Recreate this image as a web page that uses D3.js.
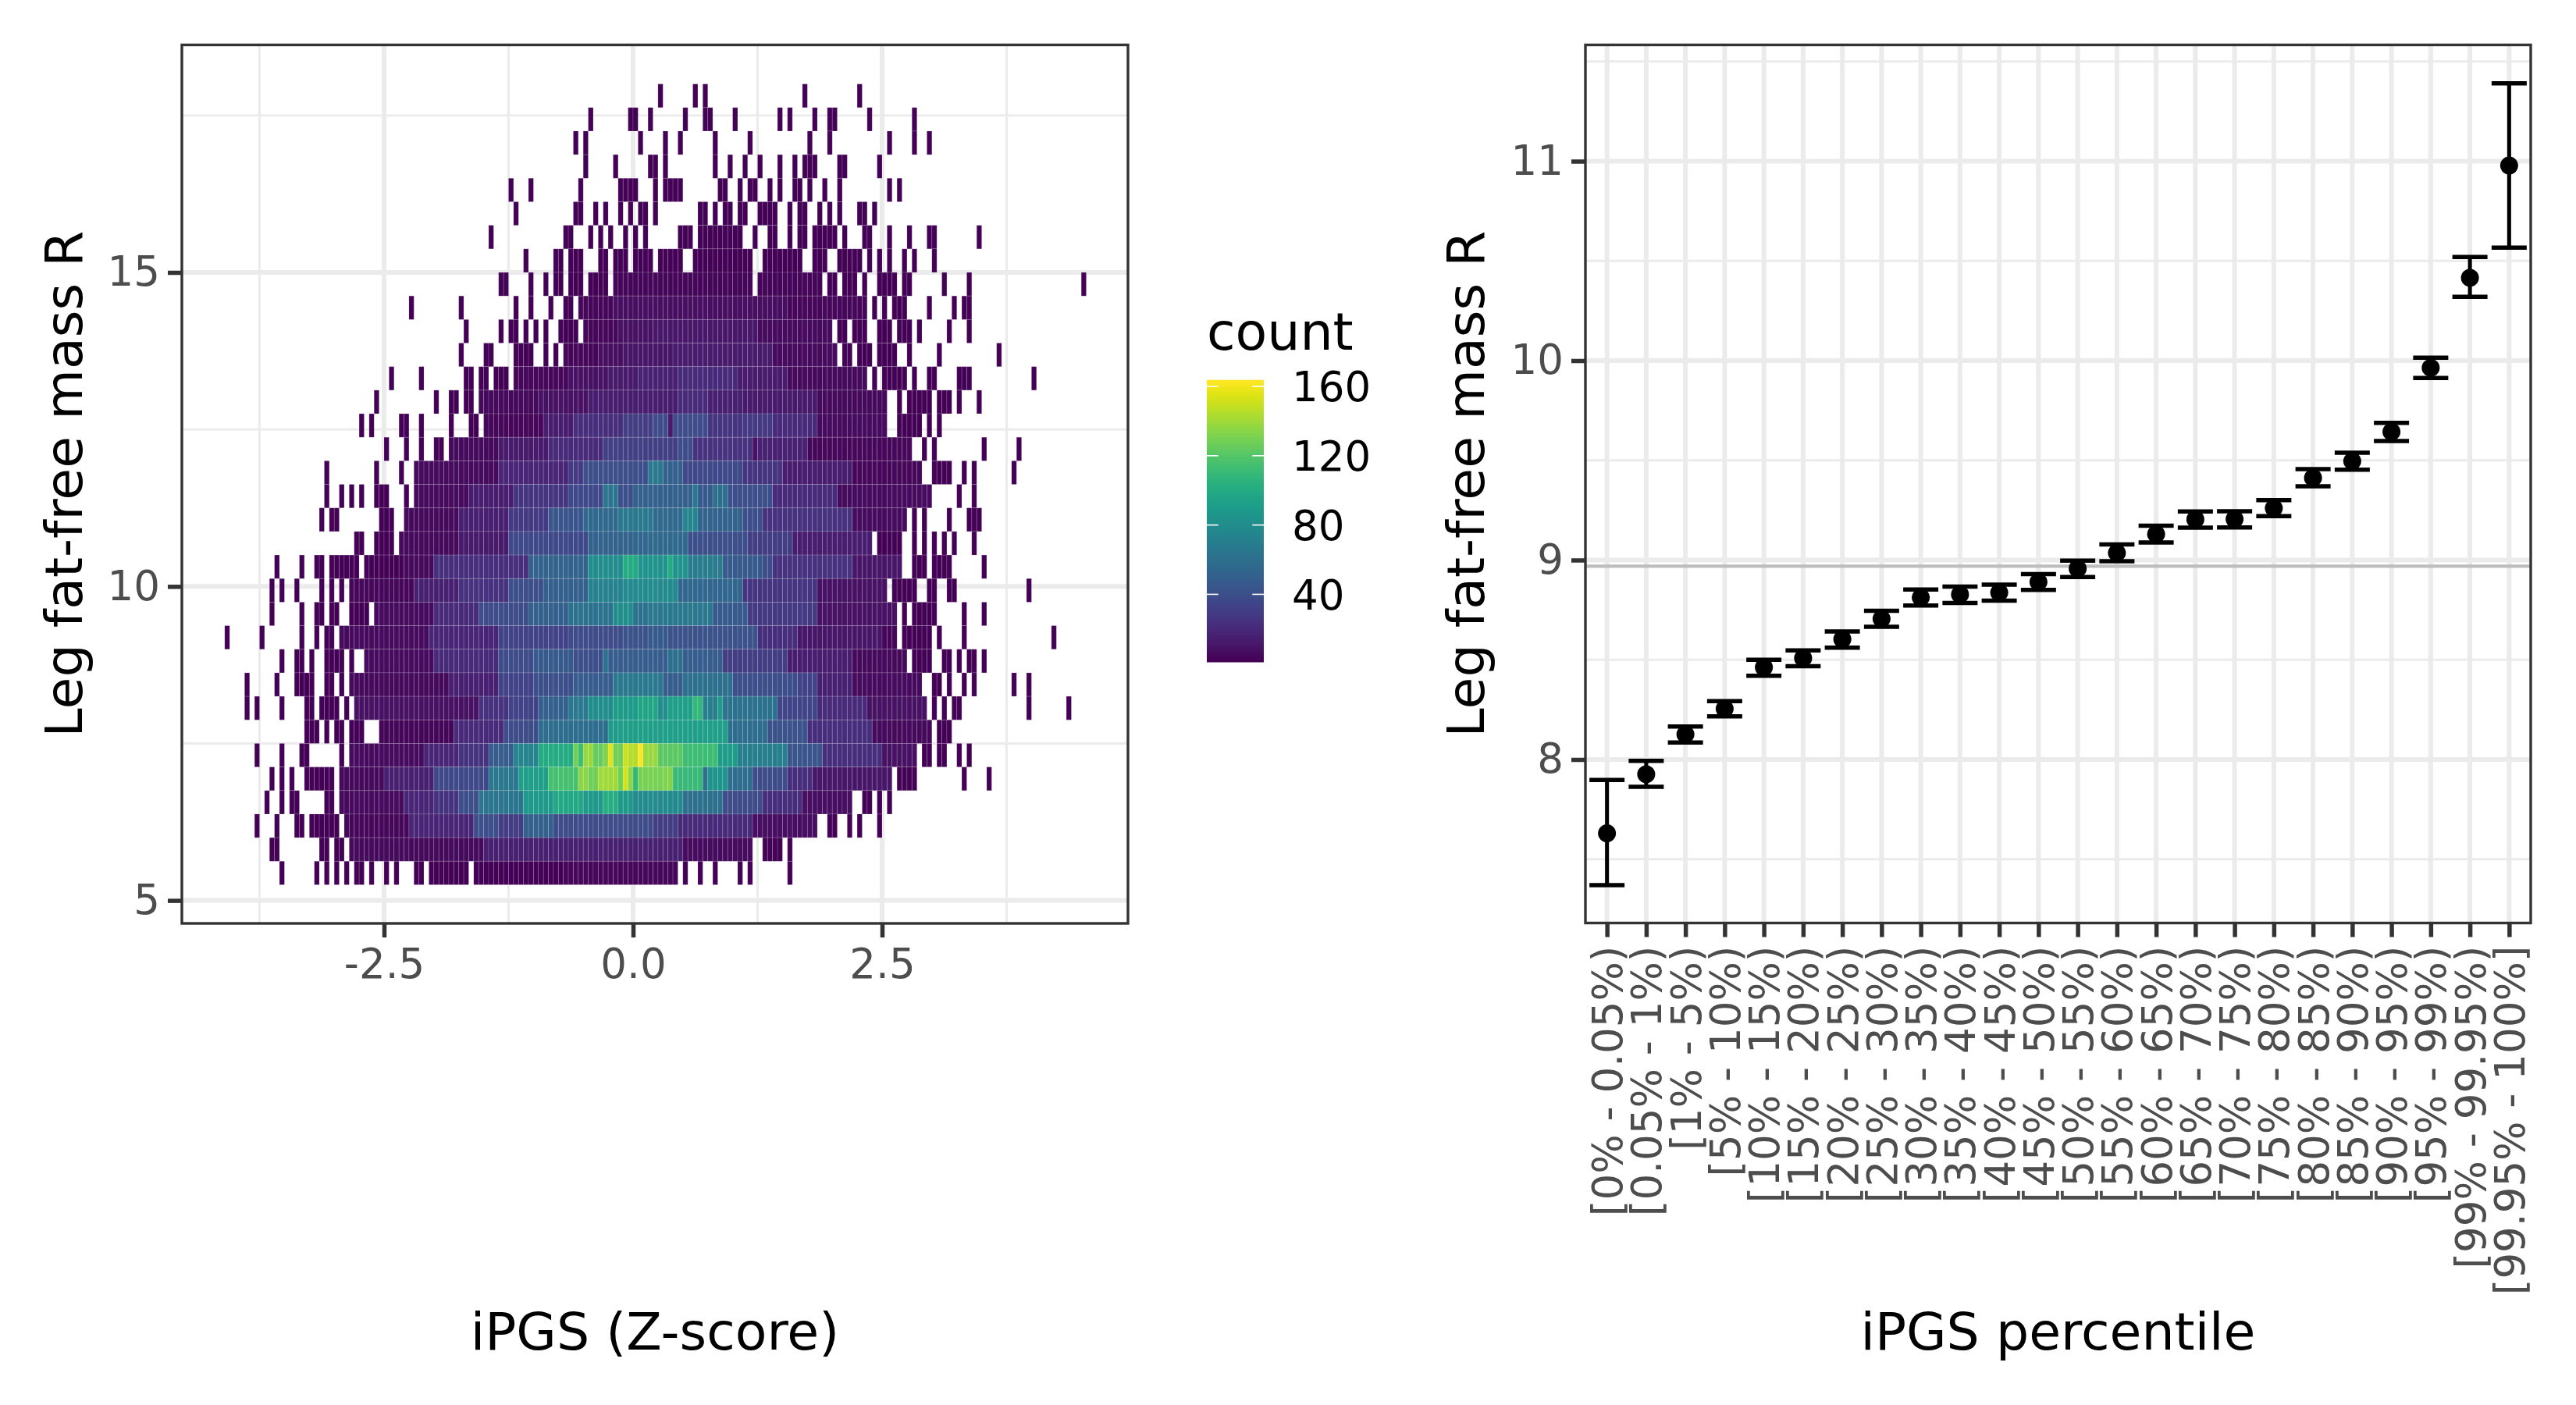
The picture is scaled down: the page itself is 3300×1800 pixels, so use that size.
<!DOCTYPE html>
<html><head><meta charset="utf-8">
<script src="https://cdn.jsdelivr.net/npm/d3@7/dist/d3.min.js"></script>
<style>html,body{margin:0;padding:0;background:#fff}text{font-family:"DejaVu Sans",sans-serif}</style>
</head><body><svg id="c" width="3300" height="1800"></svg>
<script>
// ---------- left panel: 2-d histogram, bins are 0.05 wide (x) and 0.375 high (y); rows listed top to bottom
const binWidthX = 0.05, binHeightY = 0.375, topEdgeY = 18;
const xTicksLeft = [-2.5, 0, 2.5], xMinorLeft = [-3.75, -1.25, 1.25, 3.75];
const yTicksLeft = [5, 10, 15], yMinorLeft = [7.5, 12.5, 17.5];
const legendTicks = [40, 80, 120, 160];
// isolated low-count bins: a column index or an [a,b] column range
const outerCells = [
 [5,12,14,34,45],
 [-9,[-1,0],3,10,[14,15],20,29,31,36,[39,40],47,56],
 [-12,-10,1,6,9,16,23,35,39,51,56,59],
 [-10,-4,[3,4],6,16,19,22,25,29,32,[34,36],[41,42],49],
 [-25,-21,-11,[-3,0],4,[6,9],[17,18],21,[23,24],27,29,[32,33],35,38,41,51,53],
 [-24,[-12,-11],-8,-6,-3,-1,[1,2],4,[13,14],16,[18,19],[21,22],[25,28],31,[33,34],37,39,41,[45,46],48],
 [-29,[-14,-13],-9,-7,-5,-2,0,2,[9,11],[13,21],24,27,28,31,[33,34],[36,40],42,[46,47],51,55,[59,60],69],
 [-22,[-16,-15],[-13,-11],[-7,-6],[-4,-2],[0,3],[5,9],[12,23],[26,33],[36,38],[41,45],47,49,51,54,56,60],
 [[-27,-26],-21,-18,[-16,-15],[-13,-11],[-9,-6],[39,40],[42,44],46,[49,52],[54,55],62,67,90],
 [-45,-35,-24,-21,-17,[-14,-13],48,50,[52,54],59,64,[66,67]],
 [-34,[-27,-27],[-25,-24],-22,-20,-18,[-15,-12],[41,42],[44,46],[49,51],[53,55],57,63,67],
 [-35,[-30,-29],[-24,-21],-18,-16,[42,43],[45,47],[49,52],55,61,73],
 [-49,-43,[-34,-33],[-31,-30],[-28,-26],48,[50,54],56,[59,60],[65,67],80],
 [-52,-40,[-37,-36],[-34,-33],53,[55,59],[61,63],65,69],
 [-55,-53,[-47,-46],-43,-37,[-33,-32],[53,57],59,61],
 [-50,-46,-43,[-40,-39],58,60,70,77],
 [-62,-52,-47,[60,63],66,68,76],
 [-62,-59,-57,-55,[-52,-50],-46,65,68],
 [-63,[-61,-60],[-51,-49],56,58,63,[67,69]],
 [[-56,-55],[-52,-49],[49,53],56,58,60,62,64,68],
 [-72,-67,[-64,-63],[-61,-56],[-54,-47],[56,58],[60,63],70],
 [-73,-71,-68,-63,-61,-59,[52,56],[59,60],[63,64],79],
 [-73,-67,[-64,-63],[-61,-60],[-57,-54],54,[56,60],66,70],
 [-82,-75,-67,-64,[-62,-61],[54,59],61,66,84],
 [-71,[-68,-67],-65,[-62,-59],-57,[56,59],[62,63],65,[67,68],70],
 [-78,-72,[-68,-65],[-62,-61],-59,[60,61],63,66,68,76,79],
 [-78,-76,-71,[-66,-65],[-63,-60],-58,60,62,[64,65],79,87],
 [[-66,-64],-62,[-60,-59],[-57,-55],[61,63]],
 [-76,-71,[-67,-66],-59,[58,59],[61,62],65,67],
 [-73,-71,-69,[-66,-61],[53,56],66,71],
 [-74,-71,[-69,-68],[-62,-61],[46,47],49,51],
 [-76,-72,[-68,-67],[-65,-60],[39,40],43,45,49],
 [[-73,-72],[-63,-62],[-60,-59],[26,29],31],
 [-71,-64,-62,-60,-58,[-56,-55],-53,-50,-48,[-44,-43],[-41,-34],[-32,-15],10,13,16,21,23,31]
];
const outerCount = 2;
// main body of each row: [first column, last column, count]
const coreCounts = [
 [],[],[],[],[],[],[],[],
 [[-4,23,3],[25,37,3]],
 [[-11,-5,4],[-4,30,7],[31,46,4]],
 [[-10,-4,4],[-3,3,8],[4,24,11],[25,39,6]],
 [[-14,-8,4],[-7,-3,7],[-2,7,10],[8,27,13],[28,40,6]],
 [[-24,-14,4],[-13,-6,8],[-5,0,12],[1,8,16],[9,20,20],[21,30,13],[31,46,5]],
 [[-31,-20,5],[-19,-10,8],[-9,-5,14],[-4,8,14],[9,14,20],[15,21,15],[22,36,12],[37,50,5]],
 [[-30,-19,4],[-18,-13,14],[-12,-3,22],[-2,3,30],[4,6,38],[7,7,12],[8,14,38],[15,21,26],[22,27,28],[28,36,20],[37,50,6]],
 [[-37,-28,5],[-27,-18,12],[-17,-7,20],[-6,8,31],[9,11,38],[12,23,24],[24,24,8],[25,34,16],[35,55,4]],
 [[-44,-28,6],[-27,-14,18],[-13,-11,28],[-10,2,40],[3,5,66],[6,9,50],[10,21,36],[22,29,26],[30,43,14],[44,57,4]],
 [[-44,-34,6],[-33,-25,14],[-24,-14,26],[-13,-7,36],[-6,-4,64],[-3,-1,40],[0,11,50],[12,12,66],[13,15,46],[16,18,60],[19,27,40],[28,40,20],[41,59,6]],
 [[-46,-36,5],[-35,-26,15],[-25,-18,28],[-17,-11,44],[-10,-4,55],[-3,3,66],[4,9,55],[10,12,74],[13,21,52],[22,25,40],[26,43,24],[44,54,6]],
 [[-47,-36,5],[-35,-26,12],[-25,-10,36],[-9,-1,52],[0,2,54],[3,10,56],[11,22,40],[23,31,30],[32,47,14]],
 [[-46,-41,5],[-40,-22,23],[-21,-10,52],[-9,-3,80],[-2,0,100],[1,6,84],[7,7,100],[8,10,84],[11,17,68],[18,25,46],[26,27,38],[28,43,24],[44,53,10]],
 [[-57,-45,4],[-44,-36,15],[-35,-26,24],[-25,-19,40],[-18,-10,50],[-9,-3,72],[-2,8,78],[9,21,54],[22,36,26],[37,50,8]],
 [[-52,-41,6],[-40,-32,20],[-31,-22,38],[-21,-14,50],[-13,-5,62],[-4,-1,80],[0,2,62],[3,15,66],[16,22,46],[23,36,28],[37,52,8]],
 [[-59,-42,6],[-41,-28,18],[-27,-14,33],[-13,-3,38],[-2,2,42],[3,6,46],[7,24,42],[25,32,22],[33,49,10],[50,52,3]],
 [[-54,-41,6],[-40,-28,20],[-27,-21,38],[-20,-13,46],[-12,-7,40],[-6,-6,62],[-5,6,48],[7,9,60],[10,17,48],[18,30,30],[31,43,14],[44,54,5]],
 [[-57,-38,5],[-37,-28,15],[-27,-21,33],[-20,-13,40],[-12,-5,48],[-4,5,66],[6,9,48],[10,19,60],[20,32,40],[33,36,33],[37,43,15],[44,57,6]],
 [[-56,-32,8],[-31,-26,24],[-25,-20,33],[-19,-14,50],[-13,-10,66],[-9,-5,80],[-4,0,90],[1,4,96],[5,6,80],[7,11,92],[12,13,108],[14,16,70],[17,17,90],[18,28,62],[29,36,34],[37,46,20],[47,58,8]],
 [[-51,-37,3],[-36,-27,20],[-26,-20,38],[-19,-6,58],[-5,-4,90],[-3,3,92],[4,18,92],[19,26,58],[27,34,42],[35,47,22],[48,59,5]],
 [[-57,-43,6],[-42,-36,18],[-35,-30,25],[-29,-25,48],[-24,-20,74],[-19,-17,100],[-16,-13,100],[-12,-12,128],[-11,-11,112],[-10,-9,138],[-8,-7,125],[-6,-6,132],[-5,-5,155],[-4,-3,128],[-2,-2,150],[-1,0,145],[1,1,163],[2,4,138],[5,9,122],[10,16,112],[17,20,90],[21,30,70],[31,37,44],[38,49,22],[50,56,8]],
 [[-59,-51,5],[-50,-41,15],[-40,-30,36],[-29,-24,65],[-23,-18,92],[-17,-12,115],[-11,-10,135],[-9,-8,128],[-7,-4,140],[-3,-3,128],[-2,-2,152],[-1,-1,135],[0,0,108],[1,5,130],[6,7,132],[8,13,110],[14,14,60],[15,18,85],[19,23,58],[24,30,38],[31,35,22],[36,51,10]],
 [[-59,-47,6],[-46,-41,18],[-40,-36,25],[-35,-32,40],[-31,-23,64],[-22,-17,88],[-16,-11,98],[-10,-7,88],[-6,-4,102],[-3,-1,88],[0,9,78],[10,17,60],[18,25,38],[26,33,22],[34,43,7]],
 [[-58,-46,4],[-45,-33,18],[-32,-28,40],[-27,-23,30],[-22,-17,50],[-16,-2,38],[-1,3,38],[4,8,30],[9,23,20],[24,36,7]],
 [[-57,-31,5],[-30,-2,15],[-1,9,15],[10,23,6]],
 [[-14,8,4]]
];
// ---------- right panel: mean and CI per percentile bin
const percentileBins = ["[0% - 0.05%)","[0.05% - 1%)","[1% - 5%)","[5% - 10%)","[10% - 15%)","[15% - 20%)","[20% - 25%)","[25% - 30%)","[30% - 35%)","[35% - 40%)","[40% - 45%)","[45% - 50%)","[50% - 55%)","[55% - 60%)","[60% - 65%)","[65% - 70%)","[70% - 75%)","[75% - 80%)","[80% - 85%)","[85% - 90%)","[90% - 95%)","[95% - 99%)","[99% - 99.95%)","[99.95% - 100%]"];
const meanValues = [7.63,7.926,8.126,8.254,8.462,8.508,8.603,8.705,8.813,8.827,8.837,8.89,8.957,9.036,9.13,9.204,9.205,9.26,9.412,9.496,9.643,9.964,10.415,10.978];
const upperValues = [7.897,7.993,8.165,8.293,8.5,8.547,8.642,8.746,8.852,8.867,8.877,8.93,8.997,9.078,9.172,9.244,9.245,9.3,9.456,9.538,9.688,10.015,10.52,11.39];
const lowerValues = [7.37,7.863,8.085,8.216,8.42,8.468,8.561,8.665,8.772,8.785,8.796,8.85,8.915,8.994,9.088,9.162,9.163,9.22,9.37,9.453,9.597,9.913,10.32,10.567];
const overallMean = 8.969;
const yTicksRight = [8,9,10,11], yMinorRight = [7.5,8.5,9.5,10.5,11.5];

// ---------- layout
const L = {l:233,r:1445,t:57.5,b:1183}, R = {l:2031,r:3242,t:57.5,b:1182.5};
const grid = "#EBEBEB", ink = "#333333", tickInk = "#4D4D4D";
const svg = d3.select("#c");
const xL = d3.scaleLinear().domain([-2.5,2.5]).range([492,1130]);
const yL = d3.scaleLinear().domain([5,15]).range([1153.6,349]);
const xR = d3.scalePoint().domain(percentileBins).range([R.l,R.r]).padding(0.55);
const yR = d3.scaleLinear().domain([8,11]).range([973,206.5]);
const colorScale = d3.scaleSequential(d3.interpolateViridis).domain([1,163]);

function gridLines(g,vals,scale,horizontal,P,w){
  g.selectAll(null).data(vals).join("line")
   .attr("x1",d=>horizontal?P.l:scale(d)).attr("x2",d=>horizontal?P.r:scale(d))
   .attr("y1",d=>horizontal?scale(d):P.t).attr("y2",d=>horizontal?scale(d):P.b)
   .attr("stroke",grid).attr("stroke-width",w);
}
function styleAxis(g){
  g.select(".domain").remove();
  g.selectAll(".tick line").attr("stroke",ink).attr("stroke-width",5.5);
  g.selectAll(".tick text").attr("fill",tickInk).attr("font-size",53);
}
function border(P){
  svg.append("rect").attr("x",P.l).attr("y",P.t).attr("width",P.r-P.l).attr("height",P.b-P.t)
   .attr("fill","none").attr("stroke",ink).attr("stroke-width",3.4);
}

// ---------- left panel
const gL = svg.append("g");
gridLines(gL,xMinorLeft,xL,false,L,2.9);
gridLines(gL,yMinorLeft,yL,true,L,2.9);
gridLines(gL,xTicksLeft,xL,false,L,6);
gridLines(gL,yTicksLeft,yL,true,L,6);

const cells = [];
outerCells.forEach((list,r)=>{
  list.forEach(e=>{
    const [a,b] = Array.isArray(e)?e:[e,e];
    for(let c=a;c<=b;c++) cells.push({r,c,v:outerCount});
  });
  coreCounts[r].forEach(([a,b,v])=>{ for(let c=a;c<=b;c++) cells.push({r,c,v}); });
});
gL.selectAll(null).data(cells).join("rect")
  .attr("x",d=>xL(d.c*binWidthX)).attr("width",d=>xL((d.c+1)*binWidthX)-xL(d.c*binWidthX))
  .attr("y",d=>yL(topEdgeY-d.r*binHeightY)).attr("height",d=>yL(topEdgeY-(d.r+1)*binHeightY)-yL(topEdgeY-d.r*binHeightY))
  .attr("fill",d=>colorScale(d.v)).attr("stroke","#fff").attr("stroke-opacity",0.16).attr("stroke-width",0.9);
border(L);
styleAxis(svg.append("g").attr("transform",`translate(0,${L.b})`)
  .call(d3.axisBottom(xL).tickValues(xTicksLeft).tickFormat(d=>d.toFixed(1)).tickSize(18).tickPadding(14)));
styleAxis(svg.append("g").attr("transform",`translate(${L.l},0)`)
  .call(d3.axisLeft(yL).tickValues(yTicksLeft).tickFormat(d=>d).tickSize(18).tickPadding(10)));
function title(txt,x,y,rot){
  svg.append("text").attr("transform",`translate(${x},${y})`+(rot?" rotate(-90)":""))
   .attr("text-anchor","middle").attr("font-size",66.5).attr("fill","#000").text(txt);
}
title("iPGS (Z-score)",839,1729);
title("Leg fat-free mass R",105,620,true);

// ---------- legend
const legendScale = d3.scaleLinear().domain([1,163.3]).range([848,487.7]);
const legendG = svg.append("g");
const legendStops = d3.range(1,163.3,0.5);
legendG.selectAll(null).data(legendStops).join("rect")
  .attr("x",1546).attr("width",73).attr("y",d=>legendScale(d+0.5)-0.5)
  .attr("height",d=>legendScale(d)-legendScale(d+0.5)+1).attr("fill",d=>colorScale(d));
legendTicks.forEach(t=>{
  [[1546,1560.7],[1604.3,1619]].forEach(([a,b])=>legendG.append("line").attr("x1",a).attr("x2",b)
    .attr("y1",legendScale(t)).attr("y2",legendScale(t)).attr("stroke","#fff").attr("stroke-width",1.6));
  legendG.append("text").attr("x",1655).attr("y",legendScale(t)).attr("dy","0.36em").attr("font-size",53).attr("fill","#000").text(t);
});
legendG.append("text").attr("x",1546).attr("y",448).attr("font-size",66.5).attr("fill","#000").text("count");

// ---------- right panel
const gR = svg.append("g");
gridLines(gR,yMinorRight,yR,true,R,2.9);
gridLines(gR,yTicksRight,yR,true,R,6);
gridLines(gR,percentileBins,xR,false,R,6);
gR.append("line").attr("x1",R.l).attr("x2",R.r).attr("y1",yR(overallMean)).attr("y2",yR(overallMean))
  .attr("stroke","#BEBEBE").attr("stroke-width",4.2);
const capHalf = 22.5;
percentileBins.forEach((b,i)=>{
  const x = xR(b);
  gR.append("line").attr("x1",x).attr("x2",x).attr("y1",yR(upperValues[i])).attr("y2",yR(lowerValues[i])).attr("stroke","#000").attr("stroke-width",5);
  [upperValues[i],lowerValues[i]].forEach(v=>gR.append("line").attr("x1",x-capHalf).attr("x2",x+capHalf).attr("y1",yR(v)).attr("y2",yR(v)).attr("stroke","#000").attr("stroke-width",5.5));
  gR.append("circle").attr("cx",x).attr("cy",yR(meanValues[i])).attr("r",11.5).attr("fill","#000");
});
border(R);
const axB = svg.append("g").attr("transform",`translate(0,${R.b})`).call(d3.axisBottom(xR).tickSize(18).tickPadding(14));
styleAxis(axB);
axB.selectAll(".tick text").attr("transform","rotate(-90)").attr("text-anchor","end").attr("x",-29).attr("y",0).attr("dy","0.36em");
styleAxis(svg.append("g").attr("transform",`translate(${R.l},0)`)
  .call(d3.axisLeft(yR).tickValues(yTicksRight).tickFormat(d=>d).tickSize(18).tickPadding(10)));
title("iPGS percentile",2636.5,1729);
title("Leg fat-free mass R",1900.5,620,true);
</script></body></html>
